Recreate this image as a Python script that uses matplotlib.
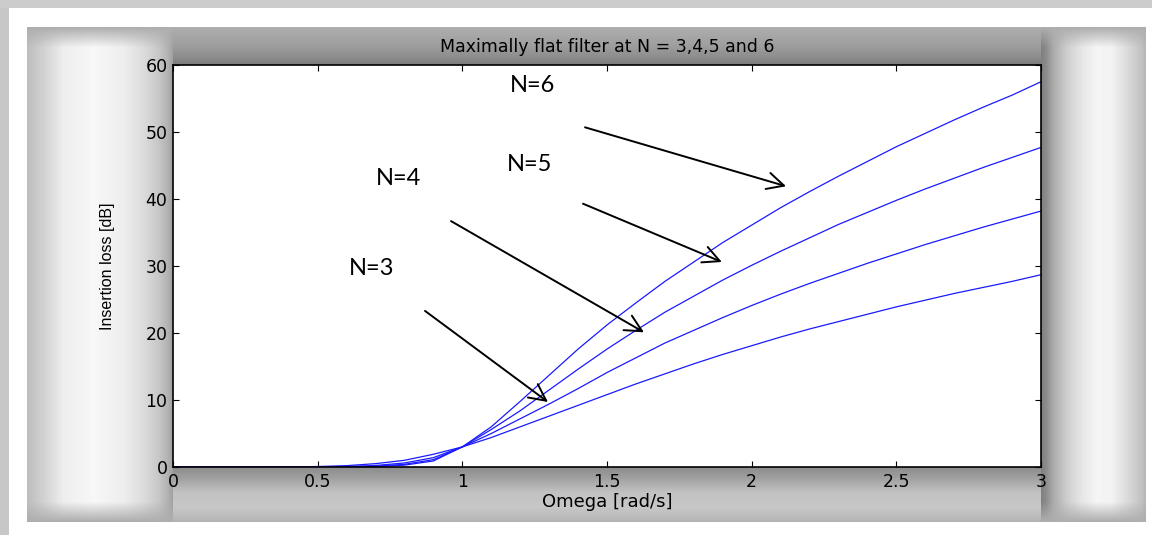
import numpy as np
import matplotlib
matplotlib.use("Agg")
import matplotlib.pyplot as plt

# datos: perdida de insercion (dB) vs omega
omega = [0.0, 0.1, 0.2, 0.3, 0.4, 0.5, 0.6, 0.7, 0.8, 0.9, 1.0,
         1.1, 1.2, 1.3, 1.4, 1.5, 1.6, 1.7, 1.8, 1.9, 2.0,
         2.1, 2.2, 2.3, 2.4, 2.5, 2.6, 2.7, 2.8, 2.9, 3.0]
il_n3 = [0, 0, 0, 0, 0.02, 0.07, 0.2, 0.5, 1.0, 1.9, 3.0,
         4.4, 6.0, 7.6, 9.2, 10.8, 12.4, 13.9, 15.4, 16.8, 18.1,
         19.4, 20.6, 21.7, 22.8, 23.9, 24.9, 25.9, 26.8, 27.7, 28.7]
il_n4 = [0, 0, 0, 0, 0, 0.02, 0.07, 0.23, 0.6, 1.4, 3.0,
         5.0, 7.2, 9.4, 11.7, 14.1, 16.3, 18.5, 20.4, 22.3, 24.1,
         25.8, 27.4, 28.9, 30.4, 31.8, 33.2, 34.5, 35.8, 37.0, 38.2]
il_n5 = [0, 0, 0, 0, 0, 0, 0.03, 0.12, 0.4, 1.1, 3.0,
         5.6, 8.4, 11.5, 14.6, 17.6, 20.4, 23.1, 25.5, 27.9, 30.1,
         32.2, 34.2, 36.2, 38.0, 39.8, 41.5, 43.1, 44.7, 46.2, 47.7]
il_n6 = [0, 0, 0, 0, 0, 0, 0.01, 0.06, 0.28, 0.9, 3.0,
         6.0, 9.8, 13.7, 17.6, 21.2, 24.5, 27.7, 30.6, 33.5, 36.1,
         38.7, 41.1, 43.4, 45.6, 47.8, 49.8, 51.8, 53.7, 55.5, 57.5]
curvas = [il_n3, il_n4, il_n5, il_n6]

# etiquetas y flechas (texto, pos texto, inicio flecha, punta flecha)
etiquetas = ["N=6", "N=5", "N=4", "N=3"]
pos_texto = [(1.244, 56.9), (1.234, 45.1), (0.781, 43.1), (0.688, 29.7)]
flecha_ini = [(1.424, 50.7), (1.417, 39.3), (0.961, 36.7), (0.871, 23.3)]
flecha_fin = [(2.119, 41.9), (1.897, 30.6), (1.628, 20.1), (1.296, 9.7)]

W, H = 1152, 535
AX_L, AX_R, AX_T, AX_B = 173, 1041, 65, 467

# fondo gris difuminado (estilo captura de MATLAB)
X, Y = np.meshgrid(np.arange(W), np.arange(H))
fondo = np.ones((H, W))
fondo[:8, :] = 0.80
fondo[8:, :9] = 0.78
panel = (X >= 27) & (X < 1146) & (Y >= 27) & (Y < 522)
izq = panel & (X < AX_L)
der = panel & (X >= AX_R)
arr = panel & (Y < AX_T) & ~izq & ~der
aba = panel & (Y >= AX_B) & ~izq & ~der
fondo[izq] = np.interp(AX_L - X[izq], [0, 6, 15, 30, 50, 80, 110, 130, 146],
                       [0.62, 0.70, 0.78, 0.86, 0.93, 0.97, 0.93, 0.82, 0.74])
fondo[der] = np.interp(X[der] - AX_R, [0, 5, 12, 25, 40, 55, 70, 85, 100, 105],
                       [0.50, 0.55, 0.67, 0.80, 0.90, 0.96, 0.95, 0.86, 0.76, 0.70])
fondo[arr] = np.interp(AX_T - Y[arr], [0, 8, 20, 38], [0.47, 0.55, 0.62, 0.68])
fondo[aba] = np.interp(Y[aba] - AX_B, [0, 10, 25, 40, 55], [0.55, 0.62, 0.76, 0.78, 0.70])
# oscurecer bordes superior/inferior de las bandas laterales
lado = izq | der
borde = np.minimum(Y - 27, 521 - Y).astype(float)
a = np.clip(1 - borde / 20.0, 0, 1)
fondo[lado] = fondo[lado] * (1 - a[lado]) + 0.68 * a[lado]

fig = plt.figure(figsize=(W / 100, H / 100), dpi=100)
bg = fig.add_axes([0, 0, 1, 1])
bg.imshow(fondo, cmap="gray", vmin=0, vmax=1, interpolation="bilinear", aspect="auto")
bg.axis("off")

ax = fig.add_axes([AX_L / W, 1 - AX_B / H, (AX_R - AX_L) / W, (AX_B - AX_T) / H])
ax.set_facecolor("white")
for c in curvas:
    ax.plot(omega, c, color="#1a1aff", lw=0.9)

ax.set_xlim(0, 3)
ax.set_ylim(0, 60)
ax.set_xticks([0, 0.5, 1, 1.5, 2, 2.5, 3])
ax.set_xticklabels(["0", "0.5", "1", "1.5", "2", "2.5", "3"])
ax.set_yticks([0, 10, 20, 30, 40, 50, 60])
ax.tick_params(direction="in", length=4, width=0.8, top=True, right=True,
               labelsize=12.5, pad=4)
for lab in ax.get_xticklabels() + ax.get_yticklabels():
    lab.set_family("DejaVu Sans")
for s in ax.spines.values():
    s.set_linewidth(1.2)

ax.set_title("Maximally flat filter at N = 3,4,5 and 6", fontsize=12.5,
             family="DejaVu Sans", pad=9)
ax.set_xlabel("Omega [rad/s]", fontsize=13, family="DejaVu Sans", labelpad=2)
ax.set_ylabel("Insertion loss [dB]", fontsize=11.5, family="Liberation Sans", labelpad=22)

for t, p, i, f in zip(etiquetas, pos_texto, flecha_ini, flecha_fin):
    ax.text(p[0], p[1], t, fontsize=17, family="Lato", ha="center", va="center")
    ax.annotate("", xy=f, xytext=i,
                arrowprops=dict(arrowstyle="->,head_length=0.6,head_width=0.3",
                                color="black", lw=1.4, mutation_scale=20,
                                shrinkA=0, shrinkB=0))

fig.savefig("out.png", dpi=100)
